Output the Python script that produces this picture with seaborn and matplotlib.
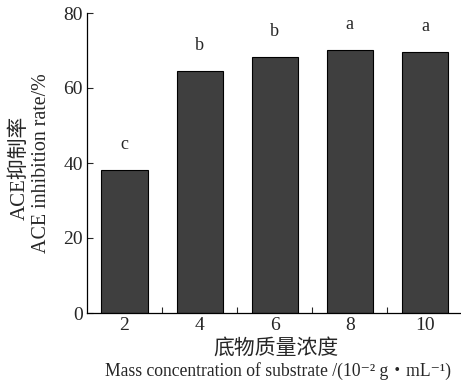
import matplotlib
matplotlib.use("Agg")
import matplotlib.pyplot as plt
import seaborn as sns
import pandas as pd
from matplotlib.ticker import FixedLocator

concentration = [2, 4, 6, 8, 10]
inhibition = [38.1, 64.6, 68.3, 70.1, 69.7]
letters = ["c", "b", "b", "a", "a"]

sns.set_style("ticks")
plt.rcParams['font.family'] = ['Liberation Serif', 'Noto Sans CJK SC', 'DejaVu Serif']

df = pd.DataFrame({"x": concentration, "y": inhibition})

W, H = 461, 385
fig = plt.figure(figsize=(W / 100, H / 100), dpi=100)
ax = fig.add_axes([87 / W, 1 - 313 / H, (462.5 - 87) / W, 300 / H])

sns.barplot(data=df, x="x", y="y", native_scale=True, width=0.615,
            color="#3f3f3f", edgecolor="black", linewidth=0.8,
            saturation=1, ax=ax, errorbar=None)

for xv, yv, lt in zip(concentration, inhibition, letters):
    ax.text(xv, yv + 6.8, lt, ha="center", va="center", fontsize=13)

ax.set_xlim(1, 11)
ax.set_ylim(0, 80)
ax.set_yticks([0, 20, 40, 60, 80])
ax.set_xticks(concentration)
ax.set_xticklabels([str(c) for c in concentration])
ax.xaxis.set_minor_locator(FixedLocator([3, 5, 7, 9]))
ax.tick_params(axis="x", which="major", length=0, pad=3, labelsize=14)
ax.tick_params(axis="x", which="minor", length=4, direction="in", width=0.8)
ax.tick_params(axis="y", which="major", length=4, direction="in", width=0.8, labelsize=14, pad=3)
ax.set_xlabel("")
ax.set_ylabel("")

for s in ["top", "right"]:
    ax.spines[s].set_visible(False)
for s in ["left", "bottom"]:
    ax.spines[s].set_linewidth(0.9)
    ax.spines[s].set_color("black")

def fx(px):
    return px / W

def fy(py):
    return 1 - py / H

fig.text(fx(276), fy(349), "底物质量浓度", ha="center", va="center", fontsize=15)
fig.text(fx(278), fy(371), "Mass concentration of substrate /(10⁻² g・mL⁻¹)",
         ha="center", va="center", fontsize=12.7)
fig.text(fx(20), fy(168), "ACE抑制率", ha="center", va="center", rotation=90, fontsize=15)
fig.text(fx(41), fy(163), "ACE inhibition rate/%", ha="center", va="center",
         rotation=90, fontsize=14.4)

fig.savefig("out.png", dpi=100)
